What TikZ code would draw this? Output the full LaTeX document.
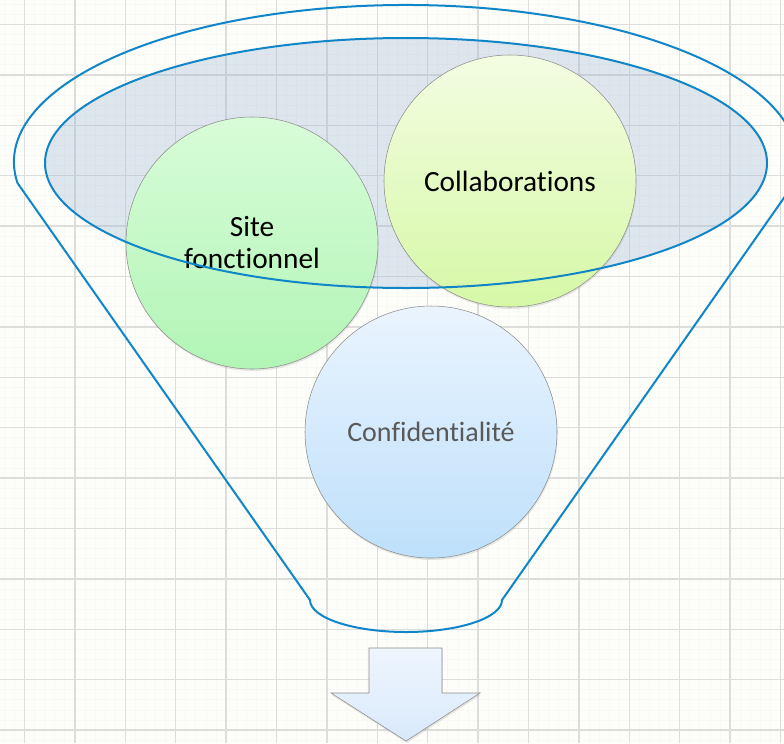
\documentclass[tikz,border=0pt]{standalone}
\usepackage{fontspec}
\setmainfont{Carlito}[Ligatures={NoCommon}]
\usetikzlibrary{shadows}
\definecolor{paper}{RGB}{253,253,250}
\definecolor{gridmajor}{RGB}{221,222,219}
\definecolor{gridminor}{RGB}{248,248,245}
\definecolor{rimblue}{RGB}{16,134,200}
\definecolor{mouthfill}{RGB}{150,175,210}
\definecolor{edgegray}{RGB}{140,140,140}
\definecolor{softtext}{RGB}{89,89,89}

\begin{document}
\begin{tikzpicture}[x=0.75pt, y=-0.75pt,
        bubble/.style={circle, draw=edgegray, thin, minimum size=189pt,
                       inner sep=0pt, align=center,
                       font=\fontsize{22}{24}\selectfont,
                       drop shadow={opacity=0.18, shadow xshift=0.5pt, shadow yshift=-1.5pt}},
        rim/.style={draw=rimblue, line width=1.5pt},
    ]
        % paper with grid
        \fill[paper] (0,0) rectangle (784,743);
        \useasboundingbox (0,0) rectangle (784,743);
        \foreach \i in {0,...,78} {
            \draw[gridminor, line width=0.6pt] (4.3+10.08*\i,0) -- ++(0,743);
            \draw[gridminor, line width=0.6pt] (0,4.3+10.08*\i) -- ++(784,0);
        }
        \foreach \i in {0,...,15} {
            \draw[gridmajor, line width=1pt] (24.5+50.4*\i,0) -- ++(0,743);
            \draw[gridmajor, line width=1pt] (0,24.5+50.4*\i) -- ++(784,0);
        }

        % funnel outline
        \draw[rim] (17.5,183) arc[start angle=172.3, end angle=367.7, x radius=392, y radius=157]
            -- (502,600) arc[start angle=0, end angle=180, x radius=96, y radius=32] -- cycle;

        % mouth of the funnel (fill only, the rim goes on top later)
        \fill[mouthfill, fill opacity=0.3] (406,163) ellipse[x radius=361, y radius=125];

        \node[bubble, top color={rgb,255:red,216;green,252;blue,216},
              bottom color={rgb,255:red,178;green,245;blue,182}] (site) at (252,243) {Site\\fonctionnel};
        \node[bubble, top color={rgb,255:red,243;green,253;blue,226},
              bottom color={rgb,255:red,214;green,248;blue,166}] (collab) at (510,181) {Collaborations};
        \node[bubble, top color={rgb,255:red,234;green,244;blue,254},
              bottom color={rgb,255:red,190;green,224;blue,251}, text=softtext,
              font=\fontsize{21}{24}\selectfont] (conf) at (431,432) {Confidentialité};

        \draw[rim] (406,163) ellipse[x radius=361, y radius=125];

        % output arrow
        \draw[edgegray, top color={rgb,255:red,238;green,246;blue,254},
              bottom color={rgb,255:red,217;green,233;blue,251},
              drop shadow={opacity=0.2, shadow xshift=0.5pt, shadow yshift=-1.5pt}]
            (369,648) -- (442,648) -- (442,693) -- (480,693) -- (406,741)
            -- (331,693) -- (369,693) -- cycle;

    \end{tikzpicture}
\end{document}
